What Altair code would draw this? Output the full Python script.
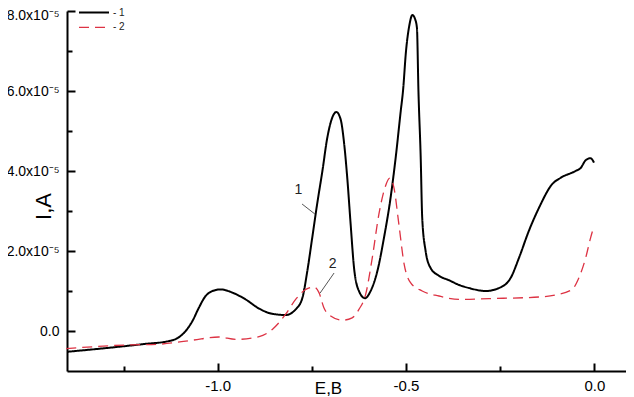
import altair as alt
import pandas as pd

# Curve 1 (solid black)
E1 = [-1.40, -1.289, -1.200, -1.129, -1.107, -1.085, -1.067, -1.050, -1.032, -1.005,
      -0.992, -0.961, -0.926, -0.890, -0.855, -0.8195, -0.793, -0.775, -0.762, -0.749,
      -0.736, -0.722, -0.709, -0.696, -0.685, -0.6735, -0.665, -0.656, -0.647, -0.638,
      -0.625, -0.609, -0.594, -0.576, -0.5585, -0.541, -0.5275, -0.514, -0.508, -0.500,
      -0.491, -0.483, -0.476, -0.471, -0.467, -0.461, -0.457, -0.448, -0.435, -0.4125,
      -0.386, -0.359, -0.333, -0.289, -0.253, -0.222, -0.200, -0.174, -0.147, -0.112,
      -0.0895, -0.050, -0.036, -0.023, -0.010, -0.001]
I1 = [-0.52, -0.42, -0.33, -0.25, -0.18, 0.0, 0.25, 0.58, 0.875, 1.025,
      1.04, 0.96, 0.79, 0.56, 0.43, 0.40, 0.54, 0.83, 1.5, 2.33,
      3.17, 4.0, 4.83, 5.33, 5.475, 5.29, 4.75, 3.83, 2.67, 1.58,
      1.0, 0.82, 1.0, 1.5, 2.33, 3.33, 4.33, 5.5, 6.0, 7.0,
      7.65, 7.9, 7.8, 7.575, 6.0, 4.33, 2.83, 2.0, 1.58, 1.38,
      1.27, 1.15, 1.075, 1.0, 1.075, 1.33, 1.83, 2.5, 3.08, 3.67,
      3.83, 4.0, 4.08, 4.27, 4.32, 4.21]

# Curve 2 (dashed red)
E2 = [-1.402, -1.243, -1.156, -1.067, -0.997, -0.952, -0.890, -0.855, -0.8195, -0.793,
      -0.766, -0.744, -0.731, -0.718, -0.700, -0.669, -0.643, -0.625, -0.607, -0.5896,
      -0.572, -0.556, -0.543, -0.532, -0.519, -0.505, -0.488, -0.457, -0.4125, -0.359,
      -0.280, -0.147, -0.103, -0.059, -0.041, -0.023, -0.010, -0.001]
I2 = [-0.44, -0.35, -0.33, -0.23, -0.15, -0.21, -0.14, 0.04, 0.42, 0.79,
      1.04, 1.1, 0.96, 0.58, 0.375, 0.27, 0.33, 0.54, 0.92, 1.83,
      2.92, 3.58, 3.82, 3.58, 2.67, 1.67, 1.21, 1.0, 0.875, 0.79,
      0.81, 0.85, 0.9, 1.04, 1.33, 1.83, 2.33, 2.62]

series_names = ["1", "2"]
series_colors = ["#000000", "#dd3344"]

# Annotation labels and leader lines
ann_labels = ["1", "2"]
ann_E = [-0.7855, -0.695]
ann_I = [3.525, 1.675]
lead_E = [-0.776, -0.691]
lead_I = [3.175, 1.45]
lead_E2 = [-0.742, -0.728]
lead_I2 = [2.925, 0.95]

x_major = [-1.0, -0.5, 0.0]
x_all_ticks = [-1.25, -1.0, -0.75, -0.5, -0.25, 0.0]
y_major = [0, 2, 4, 6, 8]
y_all_ticks = [0, 1, 2, 3, 4, 5, 6, 7, 8]

FONT = "Liberation Sans"
W, H = 559, 360

df = pd.DataFrame({
    "E": E1 + E2,
    "I": I1 + I2,
    "s": ["1"] * len(E1) + ["2"] * len(E2),
})
ann_df = pd.DataFrame({"E": ann_E, "I": ann_I, "label": ann_labels})
lead_df = pd.DataFrame({"E": lead_E, "I": lead_I, "E2": lead_E2, "I2": lead_I2})

xs = alt.Scale(domain=[-1.4, 0.084], nice=False, zero=False)
ys = alt.Scale(domain=[-1.0, 8.0], nice=False, zero=False)

x_main = alt.Axis(
    values=x_major, ticks=False, grid=False,
    labelExpr="datum.value == 0 ? '0.0' : '-' + format(abs(datum.value), '.1f')",
    domainColor="black", domainWidth=2,
    labelFont=FONT, labelFontSize=15, labelColor="black", labelPadding=7,
    title="E,B", titleFont=FONT, titleFontSize=17, titleFontWeight="normal",
    titleColor="black", titleX=261, titleY=22.5, titleAlign="center",
    titleBaseline="alphabetic",
)
y_main = alt.Axis(
    values=y_major, ticks=False, grid=False,
    labelExpr="datum.value == 0 ? '0.0' : format(datum.value, '.1f') + 'x10⁻⁵'",
    labelOffset={"condition": {"test": "datum.value == 8", "value": 4}, "value": 0},
    domainColor="black", domainWidth=2,
    labelFont=FONT, labelFontSize=14, labelColor="black", labelPadding=8,
    title="I,A", titleFont=FONT, titleFontSize=22, titleFontWeight="normal",
    titleColor="black", titleX=-17, titleY=195, titleAlign="center",
    titleBaseline="alphabetic", titleAngle=270,
)
x_ticks = alt.Axis(
    orient="top", offset=-H, values=x_all_ticks, labels=False, domain=False,
    grid=False, title=None, tickColor="black", tickWidth=2,
    tickSize={"condition": {"test": "abs(datum.value * 2 - round(datum.value * 2)) < 0.01", "value": 8}, "value": 5},
)
y_ticks = alt.Axis(
    orient="right", offset=-W, values=y_all_ticks, labels=False, domain=False,
    grid=False, title=None, tickColor="black", tickWidth=2,
    tickSize={"condition": {"test": "datum.value % 2 == 0", "value": 8}, "value": 5},
)

leg = alt.Legend(
    orient="none", legendX=21, legendY=-4.5, title=None,
    symbolType="M-3,0H3", symbolSize=100, rowPadding=3.8,
    labelFont=FONT, labelFontSize=10, labelColor="#222222",
    labelExpr="'- ' + datum.label", labelOffset=13, padding=0,
)

lines = alt.Chart(df).mark_line(interpolate="monotone").encode(
    x=alt.X("E:Q", scale=xs, axis=x_main),
    y=alt.Y("I:Q", scale=ys, axis=y_main),
    color=alt.Color("s:N", scale=alt.Scale(domain=series_names, range=series_colors), legend=leg),
    strokeDash=alt.StrokeDash("s:N", scale=alt.Scale(domain=series_names, range=[[1, 0], [10, 6]]), legend=leg),
    strokeWidth=alt.StrokeWidth("s:N", scale=alt.Scale(domain=series_names, range=[2.0, 1.3]), legend=leg),
)

labels = alt.Chart(ann_df).mark_text(font=FONT, fontSize=14, color="#222222").encode(
    x=alt.X("E:Q", scale=xs, axis=x_ticks),
    y=alt.Y("I:Q", scale=ys, axis=y_ticks),
    text="label:N",
)

leaders = alt.Chart(lead_df).mark_rule(color="#555555", strokeWidth=1).encode(
    x=alt.X("E:Q", scale=xs, axis=None),
    y=alt.Y("I:Q", scale=ys, axis=None),
    x2="E2:Q",
    y2="I2:Q",
)

chart = alt.layer(lines, labels, leaders).resolve_axis(
    x="independent", y="independent"
).properties(
    width=W, height=H,
    autosize=alt.AutoSizeParams(type="none"),
    padding={"left": 59, "top": 3, "right": 0, "bottom": 26},
    background="white",
).configure_view(stroke=None)

chart.save("out.html", embed_options={"renderer": "svg", "actions": False})
